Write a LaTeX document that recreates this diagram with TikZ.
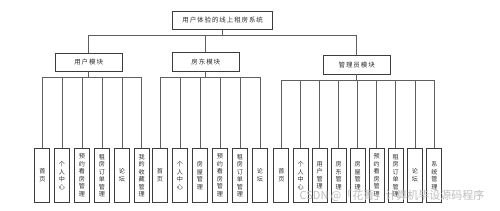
\documentclass[tikz,border=0pt]{standalone}
\usepackage{fontspec}
\newfontfamily\cjk[LetterSpace=14]{Noto Sans CJK SC}
\newfontfamily\cjkv{Noto Sans CJK SC}
\definecolor{linegray}{RGB}{95,95,95}
\definecolor{boxgray}{RGB}{60,60,60}
\definecolor{txtgray}{RGB}{45,45,45}
\definecolor{wmgray}{RGB}{190,190,190}
\tikzset{
  conn/.style={draw=linegray, line width=0.8pt},
  topbox/.style={draw=boxgray, line width=0.8pt, fill=white, text=txtgray, inner sep=0pt, minimum width=100pt, minimum height=18.3pt, font=\cjk\fontsize{6.5}{7.5}\selectfont},
  modbox/.style={draw=boxgray, line width=0.8pt, fill=white, text=txtgray, inner sep=0pt, minimum width=67pt, minimum height=18.5pt, font=\cjk\fontsize{6.5}{7.5}\selectfont},
  leafbox/.style={draw=boxgray, line width=0.8pt, fill=white, text=txtgray, inner sep=0pt, minimum width=15pt, minimum height=54pt, align=center, font=\cjkv\fontsize{6.1}{7.5}\selectfont},
  wmark/.style={text=wmgray, inner sep=0pt, font=\cjkv\fontsize{11}{12}\selectfont}
}
\begin{document}
\begin{tikzpicture}[x=1pt,y=-1pt]
\useasboundingbox[fill=white] (0,0) rectangle (500,211);
% top
\node[topbox] (top) at (222.7,20.2) {用户体验的线上租房系统};
\coordinate (busT) at (0,35.3);
% modules
\node[modbox] (um) at (88.7,62.2) {用户模块};
\node[modbox] (lm) at (205.8,61.9) {房东模块};
\node[modbox] (am) at (356.7,64.8) {管理员模块};
\draw[conn] (top.south) |- (um.north |- busT) -- (um.north);
\draw[conn] (top.south) |- (lm.north |- busT) -- (lm.north);
\draw[conn] (top.south) |- (am.north |- busT) -- (am.north);
% buses
\coordinate (busU) at (0,77.7);
\coordinate (busL) at (0,77.5);
\coordinate (busA) at (0,80);
% user children
\node[leafbox] (u1) at (42.3,175.4) {首\\页};
\node[leafbox] (u2) at (62,175.4) {个\\人\\中\\心};
\node[leafbox] (u3) at (82,175.4) {预\\约\\看\\房\\管\\理};
\node[leafbox] (u4) at (102,175.4) {租\\房\\订\\单\\管\\理};
\node[leafbox] (u5) at (122,175.4) {论\\坛};
\node[leafbox] (u6) at (141.7,175.4) {我\\的\\收\\藏\\管\\理};
\foreach \c in {u1,u2,u3,u4,u5,u6}
  \draw[conn] (um.south) |- (\c.north |- busU) -- (\c.north);
% landlord children
\node[leafbox] (l1) at (160,175.4) {首\\页};
\node[leafbox] (l2) at (180,175.4) {个\\人\\中\\心};
\node[leafbox] (l3) at (200,175.4) {房\\屋\\管\\理};
\node[leafbox] (l4) at (220,175.4) {预\\约\\看\\房\\管\\理};
\node[leafbox] (l5) at (240,175.4) {租\\房\\订\\单\\管\\理};
\node[leafbox] (l6) at (260,175.4) {论\\坛};
\foreach \c in {l1,l2,l3,l4,l5,l6}
  \draw[conn] (lm.south) |- (\c.north |- busL) -- (\c.north);
% admin children
\node[leafbox] (a1) at (281.3,175.4) {首\\页};
\node[leafbox] (a2) at (300.7,175.4) {个\\人\\中\\心};
\node[leafbox] (a3) at (319.7,175.4) {用\\户\\管\\理};
\node[leafbox] (a4) at (338.7,175.4) {房\\东\\管\\理};
\node[leafbox] (a5) at (357.7,175.4) {房\\屋\\管\\理};
\node[leafbox] (a6) at (376.7,175.4) {预\\约\\看\\房\\管\\理};
\node[leafbox] (a7) at (395.7,175.4) {租\\房\\订\\单\\管\\理};
\node[leafbox] (a8) at (415,175.4) {论\\坛};
\node[leafbox] (a9) at (434.3,175.4) {系\\统\\管\\理};
\foreach \c in {a1,a2,a3,a4,a5,a6,a7,a8,a9}
  \draw[conn] (am.south) |- (\c.north |- busA) -- (\c.north);
% watermark
\node[wmark] (wm) at (392,196) {CSDN @「花菁」计算机毕设源码程序};
\end{tikzpicture}
\end{document}
